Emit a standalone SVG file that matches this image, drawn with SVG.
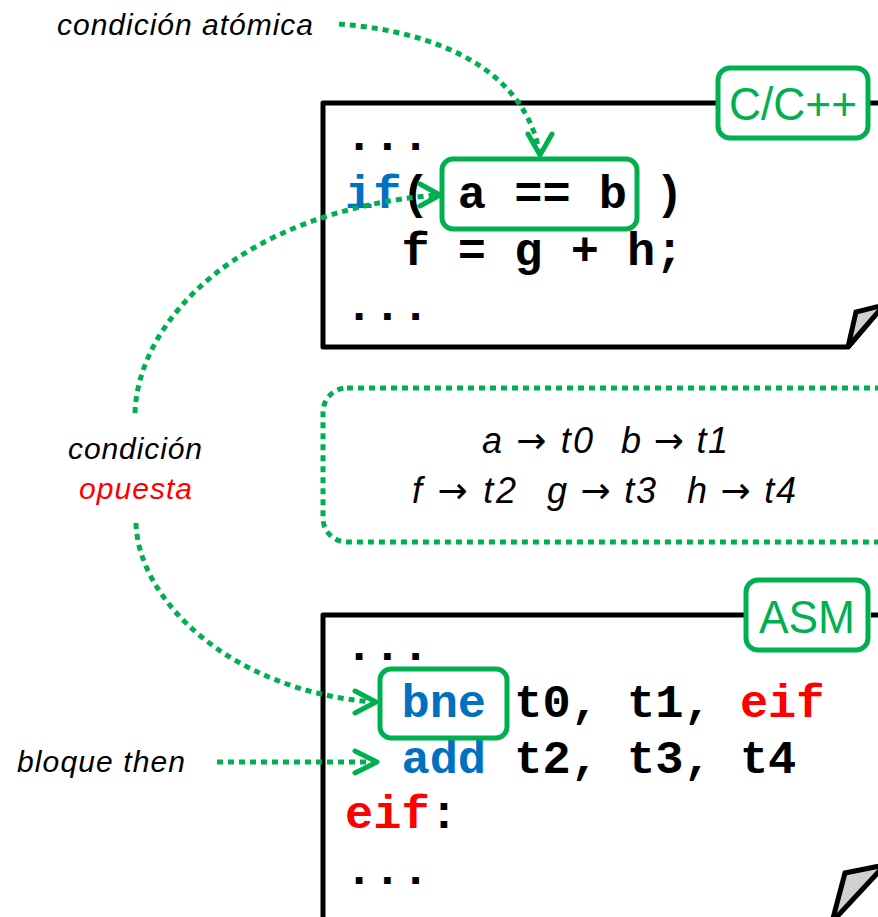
<svg xmlns="http://www.w3.org/2000/svg" width="878" height="917" viewBox="0 0 878 917">
<style>
.page{fill:none;stroke:#000;stroke-width:5;stroke-linejoin:round}
.fold{fill:#d0d0d0;stroke:#000;stroke-width:5;stroke-linejoin:miter}
.tag{fill:#fff;stroke:#00B050;stroke-width:5}
.tagtxt{font-family:"Liberation Sans",Arial,sans-serif;font-size:46px;fill:#00B050}
.hl{fill:none;stroke:#00B050;stroke-width:5}
.code{font-family:"Liberation Mono","Courier New",monospace;font-weight:bold;font-size:47px;fill:#000}
.it{font-family:"Liberation Sans",Arial,sans-serif;font-style:italic;font-size:30px;fill:#000}
.map{font-family:"Liberation Sans",Arial,sans-serif;font-style:italic;font-size:36px;fill:#000}
.ar{font-family:"DejaVu Sans",sans-serif;font-style:normal}
.kw{fill:#0070C0}
.lbl{fill:#FF0000}
.dot{fill:none;stroke:#00B050;stroke-width:5;stroke-dasharray:6 5}
.chev{fill:none;stroke:#00B050;stroke-width:5;stroke-linecap:round;stroke-linejoin:round}
</style>

<g id="c-block">
  <path class="page" d="M716,103 H323 V347 H848 L884,305"/>
  <path class="page" d="M870,103 H880"/>
  <polygon class="fold" points="848,347 856,312 884,305"/>
  <text class="code" xml:space="preserve"><tspan x="345" y="150">...</tspan><tspan x="345" y="208"><tspan class="kw">if</tspan>( a == b )</tspan><tspan x="345" y="265">  f = g + h;</tspan><tspan x="345" y="320">...</tspan></text>
  <rect class="hl" x="442" y="159" width="195" height="70" rx="11"/>
  <g id="tag-c">
    <rect class="tag" x="718" y="68" width="150" height="70" rx="12"/>
    <text class="tagtxt" x="729" y="120" textLength="128" lengthAdjust="spacingAndGlyphs">C/C++</text>
  </g>
</g>

<g id="mapping">
  <rect class="dot" x="323" y="388" width="620" height="154" rx="24"/>
  <text class="map" x="482" y="453" textLength="111">a <tspan class="ar">→</tspan> t0</text>
  <text class="map" x="621" y="453" textLength="107">b <tspan class="ar">→</tspan> t1</text>
  <text class="map" x="412" y="503" textLength="104">f <tspan class="ar">→</tspan> t2</text>
  <text class="map" x="547" y="503" textLength="109">g <tspan class="ar">→</tspan> t3</text>
  <text class="map" x="687" y="503" textLength="109">h <tspan class="ar">→</tspan> t4</text>
</g>

<g id="asm-block">
  <path class="page" d="M744,615 H323 V925"/>
  <path class="page" d="M871,615 H880"/>
  <polygon class="fold" points="832,922 845,873 885,865"/>
  <text class="code" xml:space="preserve"><tspan x="345" y="660">...</tspan><tspan x="345" y="717">  <tspan class="kw">bne</tspan> t0, t1, <tspan class="lbl">eif</tspan></tspan><tspan x="345" y="773">  <tspan class="kw">add</tspan> t2, t3, t4</tspan><tspan x="345" y="828"><tspan class="lbl">eif</tspan>:</tspan><tspan x="345" y="884">...</tspan></text>
  <rect class="hl" x="380" y="669" width="127" height="69" rx="11"/>
  <g id="tag-asm">
    <rect class="tag" x="746" y="580" width="122" height="70" rx="12"/>
    <text class="tagtxt" x="759" y="633" textLength="96" lengthAdjust="spacingAndGlyphs">ASM</text>
  </g>
</g>

<g id="label-atomica">
  <text class="it" x="57" y="35" textLength="256">condición atómica</text>
</g>
<g id="label-opuesta">
  <text class="it" x="68" y="459" textLength="134">condición</text>
  <text class="it lbl" x="79" y="499" textLength="113">opuesta</text>
</g>
<g id="label-then">
  <text class="it" x="17" y="772" textLength="168">bloque then</text>
</g>

<g id="connectors">
  <path class="dot" d="M339,24 C420,30 520,60 539,150"/>
  <path class="chev" d="M528,134 L540,155 L552,134"/>
  <path class="dot" d="M135,413 C138,320 240,212 436,195"/>
  <path class="chev" d="M420,184 L440,195 L420,206"/>
  <path class="dot" d="M136,523 C138,600 230,690 372,702"/>
  <path class="chev" d="M355,691 L376,702 L355,713"/>
  <path class="dot" d="M217,762 H373"/>
  <path class="chev" d="M355,751 L377,762 L355,773"/>
</g>
</svg>
